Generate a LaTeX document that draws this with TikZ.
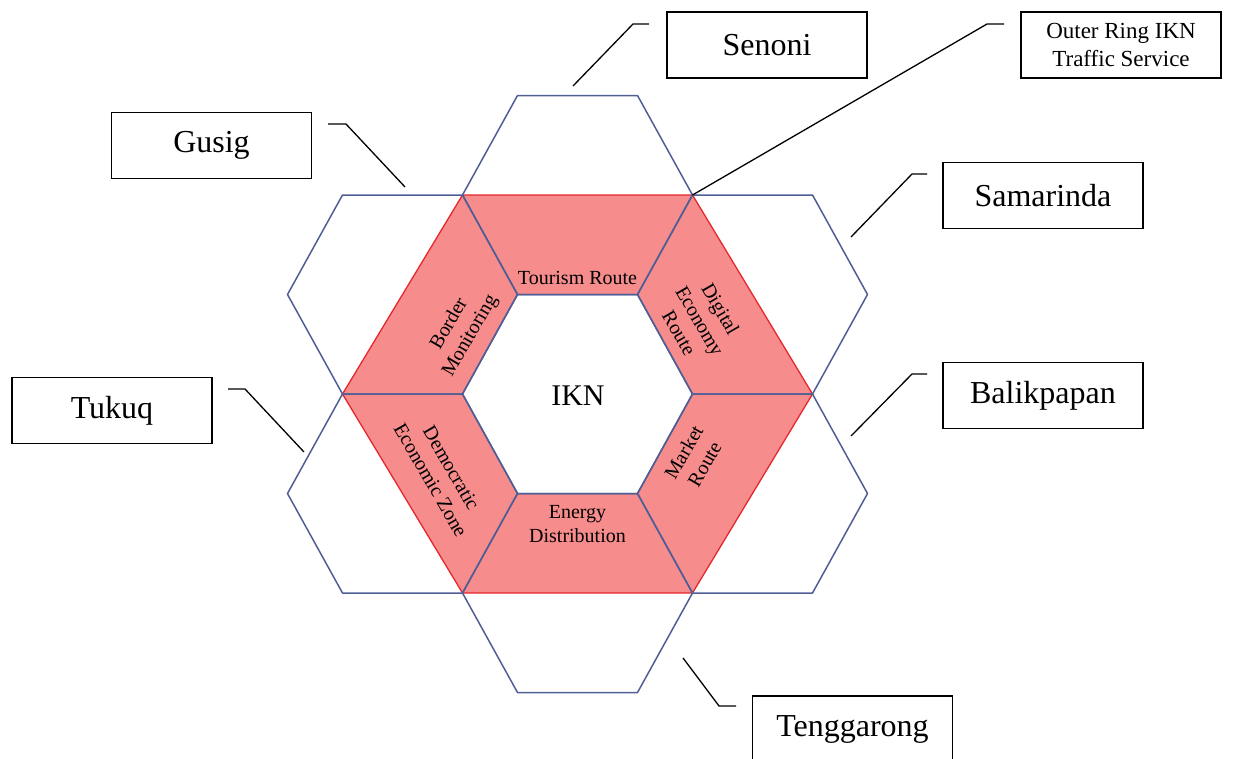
\documentclass[tikz,border=0pt]{standalone}
\usepackage{fontspec}
\setmainfont{Liberation Serif}
\definecolor{hexblue}{RGB}{80,94,150}
\definecolor{ringred}{RGB}{228,40,45}
\definecolor{ringfill}{RGB}{246,140,140}
\begin{document}
\begin{tikzpicture}[x=1pt,y=-1pt,
  hexline/.style={draw=hexblue,line width=1.5pt,line join=round},
  ringline/.style={draw=ringred,line width=1.3pt,line join=round},
  leader/.style={draw=black,line width=1.3pt},
  lbox/.style={draw=black,line width=1.4pt,minimum width=200pt,minimum height=66pt,inner sep=0pt,font=\fontsize{32}{38}\selectfont},
  lab/.style={inner sep=0pt,align=center,font=\fontsize{20}{24}\selectfont}]
\useasboundingbox (0,0) rectangle (1239,758);
% red ring
\fill[ringfill,even odd rule]
  (462.5,195) -- (692.5,195) -- (812.5,394) -- (692.5,593) -- (462.5,593) -- (342.5,394) -- cycle
  (462.5,394) -- (517.5,294.5) -- (637.5,294.5) -- (692.5,394) -- (637.5,493.5) -- (517.5,493.5) -- cycle;
\draw[ringline] (462.5,195) -- (692.5,195) -- (812.5,394) -- (692.5,593) -- (462.5,593) -- (342.5,394) -- cycle;
% hexagons
\foreach \cx/\cy in {577.5/394, 577.5/195, 752.5/294.5, 752.5/493.5, 577.5/593, 402.5/493.5, 402.5/294.5}{
  \draw[hexline] (\cx-115,\cy) -- (\cx-60,\cy-99.5) -- (\cx+60,\cy-99.5) -- (\cx+115,\cy) -- (\cx+60,\cy+99.5) -- (\cx-60,\cy+99.5) -- cycle;
}
% ring labels
\node[lab] (tour) at (577.5,278) {Tourism Route};
\node[lab,rotate=-60] (digi) at (700,321) {Digital\\Economy\\Route};
\node[lab,rotate=60] (mark) at (694,458) {Market\\Route};
\node[lab] (ener) at (577.5,524) {Energy\\Distribution};
\node[lab,rotate=-60] (demo) at (441,474) {Democratic\\Economic Zone};
\node[lab,rotate=60] (bord) at (460,330) {Border\\Monitoring};
\node[inner sep=0pt,font=\fontsize{30}{36}\selectfont] (ikn) at (578,396) {IKN};
% boxes
\node[lbox] (senoni) at (767,45) {Senoni};
\node[lbox,align=center,font=\fontsize{23}{28}\selectfont] (outer) at (1121,45) {Outer Ring IKN\\Traffic Service};
\node[lbox] (gusig) at (211.5,145.5) {Gusig};
\node[lbox] (samar) at (1043,195.5) {Samarinda};
\node[lbox] (balik) at (1043,395.5) {Balikpapan};
\node[lbox] (tukuq) at (112,410.5) {Tukuq};
\node[lbox] (tengg) at (852.5,729) {Tenggarong};
% leader coordinates
\coordinate (s1) at (573,86); \coordinate (s2) at (633,24); \coordinate (s3) at (649,24);
\coordinate (o1) at (692.5,195); \coordinate (o2) at (987,24); \coordinate (o3) at (1004,24);
\coordinate (g1) at (328,124); \coordinate (g2) at (346,124); \coordinate (g3) at (405,187);
\coordinate (m1) at (927,174); \coordinate (m2) at (912,174); \coordinate (m3) at (851,237);
\coordinate (b1) at (927,374); \coordinate (b2) at (912,374); \coordinate (b3) at (851,436);
\coordinate (t1) at (228,389); \coordinate (t2) at (245,389); \coordinate (t3) at (304,452);
\coordinate (e1) at (683,658); \coordinate (e2) at (719,706); \coordinate (e3) at (736,706);
\draw[leader] (s1) -- (s2) -- (s3);
\draw[leader] (o1) -- (o2) -- (o3);
\draw[leader] (g1) -- (g2) -- (g3);
\draw[leader] (m1) -- (m2) -- (m3);
\draw[leader] (b1) -- (b2) -- (b3);
\draw[leader] (t1) -- (t2) -- (t3);
\draw[leader] (e1) -- (e2) -- (e3);
\end{tikzpicture}
\end{document}
